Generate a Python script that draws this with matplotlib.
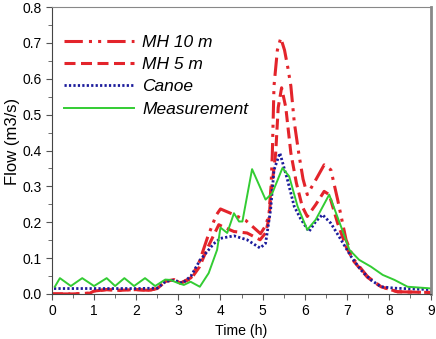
import matplotlib
matplotlib.use('Agg')
import matplotlib.pyplot as plt

plt.rcParams['font.family'] = ['Liberation Sans', 'DejaVu Sans']

# time (h) / flow (m3/s)
t_mh10 = [0.0, 0.5, 0.9, 1.0, 1.3, 1.6, 2.0, 2.3, 2.5, 2.7, 2.9, 3.05, 3.3, 3.5, 3.7,
          3.9, 4.0, 4.3, 4.6, 4.95, 5.07, 5.15, 5.2, 5.23, 5.27, 5.35, 5.43, 5.52,
          5.6, 5.67, 5.75, 5.86, 5.96, 6.06, 6.26, 6.46, 6.62, 6.78, 6.98, 7.17,
          7.49, 7.81, 8.2, 9.0]
q_mh10 = [0.0, 0.0, 0.002, 0.008, 0.012, 0.01, 0.012, 0.01, 0.015, 0.035, 0.04, 0.03,
          0.045, 0.09, 0.16, 0.22, 0.237, 0.222, 0.205, 0.168, 0.19, 0.22, 0.3, 0.39,
          0.58, 0.68, 0.714, 0.68, 0.63, 0.58, 0.48, 0.39, 0.32, 0.277, 0.318, 0.36,
          0.346, 0.263, 0.151, 0.095, 0.048, 0.02, 0.006, 0.004]

t_mh5 = [0.0, 0.5, 0.9, 1.0, 1.3, 1.6, 2.0, 2.3, 2.5, 2.7, 2.9, 3.05, 3.3, 3.5, 3.7,
         3.96, 4.1, 4.32, 4.63, 4.94, 5.07, 5.15, 5.2, 5.31, 5.37, 5.45, 5.55, 5.67,
         5.8, 5.94, 6.06, 6.26, 6.46, 6.58, 6.78, 6.98, 7.17, 7.49, 7.81, 8.2, 9.0]
q_mh5 = [0.0, 0.0, 0.002, 0.008, 0.012, 0.01, 0.012, 0.01, 0.015, 0.035, 0.04, 0.03,
         0.042, 0.075, 0.13, 0.193, 0.185, 0.174, 0.17, 0.151, 0.17, 0.21, 0.28, 0.393,
         0.52, 0.575, 0.52, 0.393, 0.31, 0.244, 0.216, 0.249, 0.286, 0.277, 0.197,
         0.132, 0.09, 0.046, 0.02, 0.006, 0.004]

t_canoe = [0.05, 1.0, 2.0, 2.5, 2.7, 2.9, 3.1, 3.3, 3.52, 3.84, 4.0, 4.32, 4.63, 4.94,
           5.07, 5.19, 5.27, 5.41, 5.59, 5.75, 5.9, 6.1, 6.26, 6.42, 6.62, 6.86, 7.1,
           7.33, 7.57, 7.81, 8.13, 9.0]
q_canoe = [0.015, 0.015, 0.015, 0.016, 0.035, 0.038, 0.03, 0.05, 0.095, 0.14, 0.155,
           0.162, 0.151, 0.128, 0.141, 0.235, 0.346, 0.393, 0.318, 0.244, 0.21, 0.174,
           0.202, 0.221, 0.197, 0.151, 0.104, 0.067, 0.039, 0.02, 0.016, 0.012]

t_meas = [0.07, 0.19, 0.45, 0.72, 1.0, 1.3, 1.5, 1.72, 1.95, 2.21, 2.45, 2.69, 2.81, 3.0,
          3.13, 3.29, 3.51, 3.72, 3.92, 4.0, 4.16, 4.32, 4.44, 4.52, 4.75, 5.07, 5.23,
          5.47, 5.63, 5.83, 6.06, 6.26, 6.58, 6.86, 7.06, 7.29, 7.57, 7.85, 8.13, 8.44,
          8.92, 9.0]
q_meas = [0.02, 0.044, 0.022, 0.044, 0.022, 0.044, 0.022, 0.044, 0.022, 0.044, 0.022,
          0.04, 0.039, 0.03, 0.025, 0.034, 0.02, 0.058, 0.123, 0.185, 0.17, 0.225, 0.202,
          0.202, 0.348, 0.263, 0.281, 0.351, 0.328, 0.244, 0.179, 0.207, 0.277, 0.188,
          0.123, 0.095, 0.076, 0.053, 0.039, 0.02, 0.016, 0.015]

fig = plt.figure(figsize=(4.36, 3.39), dpi=100)
ax = fig.add_axes([0.119, 0.133, 0.870, 0.846])

ax.plot(t_mh10, q_mh10, color='#e3242b', lw=2.2, dashes=(6, 2, 1, 2, 1, 2), label='MH 10 m')
ax.plot(t_mh5, q_mh5, color='#e3242b', lw=2.2, dashes=(3.6, 1.8), label='MH 5 m')
ax.plot(t_canoe, q_canoe, color='#1c1c9c', lw=2, dashes=(0.8, 0.8), label='Canoe')
ax.plot(t_meas, q_meas, color='#33cc33', lw=1.4, label='Measurement')

ax.set_xlim(0, 9)
ax.set_ylim(0, 0.8)
ax.set_xticks(range(10))
ax.set_xticks([i + 0.5 for i in range(9)], minor=True)
ax.set_yticks([i / 10 for i in range(9)])
ax.set_yticks([i / 20 for i in range(1, 16, 2)], minor=True)
ax.set_yticklabels(['%.1f' % (i / 10) for i in range(9)])
ax.tick_params(which='both', direction='out', labelsize=10, color='#555555')
ax.tick_params(which='major', length=4)
ax.tick_params(which='minor', length=3)

for s in ['left', 'bottom']:
    ax.spines[s].set_color('#444444')
ax.spines['top'].set_color('#888888')
ax.spines['right'].set_color('#888888')
ax.spines['right'].set_linewidth(2)

ax.set_xlabel('Time (h)', fontsize=10.2)
ax.set_ylabel('Flow (m3/s)', fontsize=12)
ax.yaxis.set_label_coords(-0.085, 0.533)

leg = ax.legend(loc='upper left', bbox_to_anchor=(0.01, 0.935), frameon=False,
                prop={'style': 'italic', 'size': 12.5}, handlelength=4.0,
                handletextpad=0.5, labelspacing=0.42, borderpad=0)

plt.savefig('out.png', dpi=100)
